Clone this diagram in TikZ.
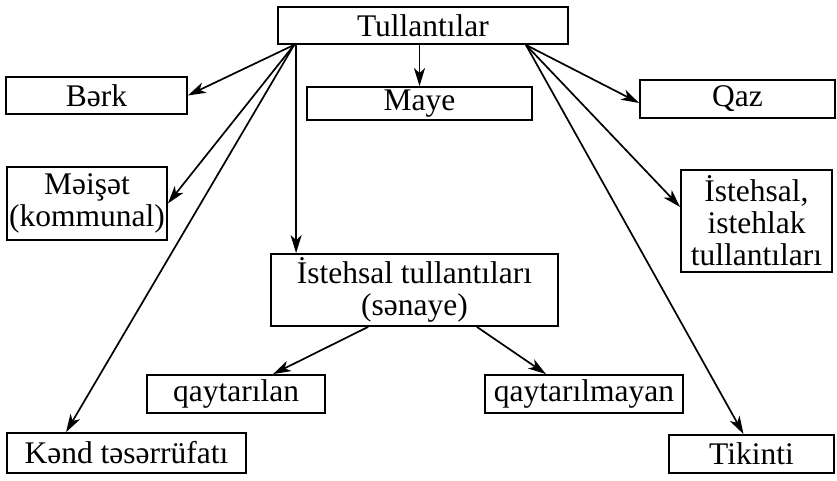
\documentclass[tikz,border=0pt]{standalone}
\usepackage{fontspec}
\setmainfont{Liberation Serif}
\usetikzlibrary{arrows.meta}
\begin{document}
\begin{tikzpicture}[x=1pt,y=-1pt,
  box/.style={draw, line width=1.8pt, inner sep=0pt, align=center,
    font=\fontsize{31.5}{32}\selectfont},
  arr/.style={line width=1.7pt, -{Stealth[length=18pt,width=11pt,inset=5pt]}}]
\useasboundingbox (0,0) rectangle (837,481);
% boxes
\node[box, minimum width=290pt, minimum height=37pt] (top)    at (423,25.5)  {Tullantılar};
\node[box, minimum width=181pt, minimum height=37pt] (berk)   at (96.5,95.5) {Bərk};
\node[box, minimum width=225pt, minimum height=33pt] (maye)   at (419.5,103.5) {Maye};
\node[box, minimum width=195pt, minimum height=38pt] (qaz)    at (737.5,99)  {Qaz};
\node[box, minimum width=160pt, minimum height=73pt] (meiset) at (87,203.5)  {Məişət\\(kommunal)};
\node[box, minimum width=151pt, minimum height=102pt] (isteh) at (756.5,221) {İstehsal,\\istehlak\\tullantıları};
\node[box, minimum width=287pt, minimum height=72pt] (sen)    at (414.5,290) {İstehsal tullantıları\\(sənaye)};
\node[box, minimum width=178pt, minimum height=38pt] (qayt)   at (236,394)   {qaytarılan};
\node[box, minimum width=198pt, minimum height=38pt] (qaytm)  at (584,394)   {qaytarılmayan};
\node[box, minimum width=239pt, minimum height=40pt] (kend)   at (126.5,453) {Kənd təsərrüfatı};
\node[box, minimum width=165pt, minimum height=38pt] (tik)    at (751.5,454) {Tikinti};
% connectors from the top box
\draw[arr] ([xshift=17pt]top.south west) -- (berk.east);
\draw[arr] ([xshift=17pt]top.south west) -- (meiset.east);
\draw[arr] ([xshift=17pt]top.south west) -- ([xshift=60pt]kend.north west);
\draw[arr] ([xshift=19pt]top.south west) -- ([xshift=26pt]sen.north west);
\draw[arr] (maye.north |- top.south) -- (maye.north);
\draw[arr] ([xshift=-43pt]top.south east) -- ([yshift=-4pt]qaz.west);
\draw[arr] ([xshift=-43pt]top.south east) -- ([yshift=14pt]isteh.west);
\draw[arr] ([xshift=-43pt]top.south east) -- ([xshift=-8pt]tik.north);
% connectors from the industrial waste box
\draw[arr] ([xshift=98pt]sen.south west) -- ([xshift=37pt]qayt.north);
\draw[arr] ([xshift=-82pt]sen.south east) -- ([xshift=-38pt]qaytm.north);
\end{tikzpicture}
\end{document}
